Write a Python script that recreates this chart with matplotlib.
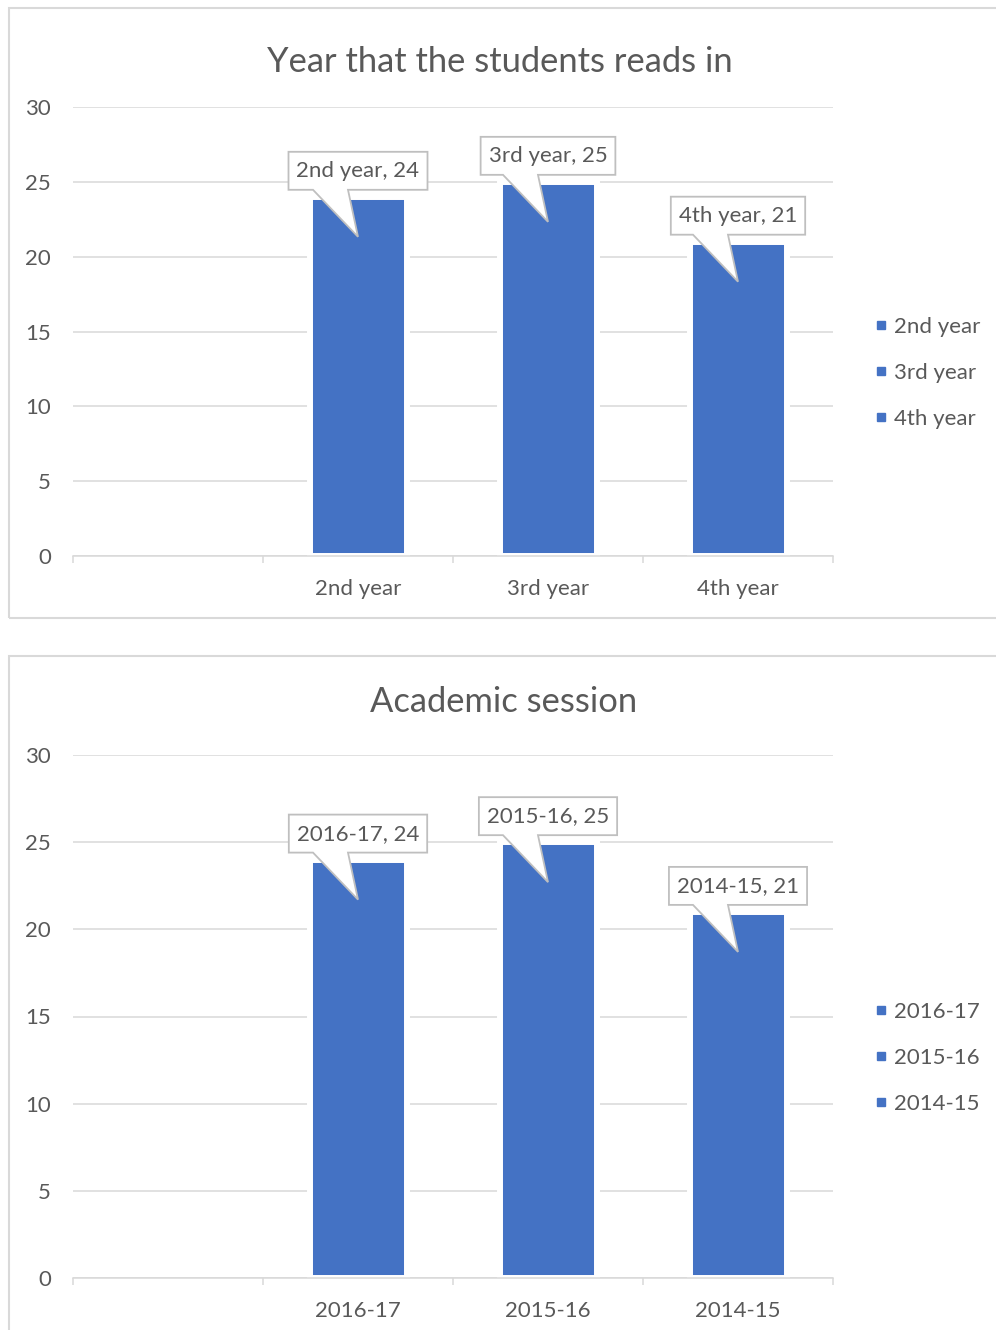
import matplotlib
matplotlib.use('Agg')
import matplotlib.pyplot as plt
from matplotlib.patches import Polygon, Rectangle
from matplotlib.lines import Line2D

plt.rcParams['font.family'] = ['Lato', 'DejaVu Sans']

# chart data (first category is left blank on the axis)
year_labels = ['2nd year', '3rd year', '4th year']
year_counts = [24, 25, 21]
session_labels = ['2016-17', '2015-16', '2014-15']
session_counts = [24, 25, 21]
y_ticks = [0, 5, 10, 15, 20, 25, 30]

BAR = '#4472C4'
TEXT = '#595959'
GRID = '#D9D9D9'
CALLOUT_EDGE = '#BFBFBF'

W, H = 996, 1330
fig = plt.figure(figsize=(W / 100, H / 100), dpi=100)


def px_rect(x0, y0, x1, y1):
    """Pixel box (top-left origin) -> figure fraction [l, b, w, h]."""
    return [x0 / W, 1 - y1 / H, (x1 - x0) / W, (y1 - y0) / H]


def draw_chart(ax, labels, counts, title, title_xy, legend_y):
    cats = [''] + labels
    xs = list(range(1, len(cats)))
    ax.set_axisbelow(True)
    ax.bar(xs, counts, width=97 / 190, color=BAR, edgecolor='white',
           linewidth=4.3, zorder=2)

    ax.set_xlim(-0.5, len(cats) - 0.5)
    ax.set_ylim(0, 30)
    ax.set_yticks(y_ticks)
    ax.yaxis.grid(True, color=GRID, linewidth=1.1)
    ax.tick_params(axis='y', length=0, pad=16, labelsize=16, labelcolor=TEXT)

    # category boundaries as tick marks, names in between
    ax.set_xticks([i - 0.5 for i in range(len(cats) + 1)])
    ax.set_xticklabels([])
    ax.tick_params(axis='x', which='major', length=5, width=1.1, color=GRID)
    ax.set_xticks(range(len(cats)), minor=True)
    ax.set_xticklabels(cats, minor=True)
    ax.tick_params(axis='x', which='minor', length=0, pad=16.5,
                   labelsize=16, labelcolor=TEXT)

    for side in ['top', 'right', 'left']:
        ax.spines[side].set_visible(False)
    ax.spines['bottom'].set_color(GRID)
    ax.spines['bottom'].set_linewidth(1.1)
    ax.spines['bottom'].set_zorder(3)

    fig.text(title_xy[0] / W, 1 - title_xy[1] / H, title, ha='center',
             va='center', fontsize=24.8, color=TEXT)

    # data callouts: box with a wedge pointing into the bar
    fig.canvas.draw()
    renderer = fig.canvas.get_renderer()
    for x, name, v in zip(xs, labels, counts):
        cx, top = ax.transData.transform((x, v))
        t = fig.text(cx / W, (top + 26) / H, f'{name}, {v}', ha='center',
                     va='center', fontsize=16, color=TEXT, zorder=6)
        bb = t.get_window_extent(renderer)
        half = bb.width / 2 + 8
        b = top + 7
        tp = b + 38
        pts = [(cx - half, tp), (cx + half, tp), (cx + half, b),
               (cx - 10, b), (cx, top - 40), (cx - 45, b), (cx - half, b)]
        pts = [(px / W, py / H) for px, py in pts]
        fig.patches.append(Polygon(pts, closed=True, facecolor='white',
                                   edgecolor=CALLOUT_EDGE, linewidth=1.3,
                                   transform=fig.transFigure, zorder=5))

    handles = [Line2D([], [], linestyle='none', marker='s', markersize=6,
                      color=BAR) for _ in labels]
    fig.legend(handles, labels, loc='upper left', frameon=False,
               bbox_to_anchor=(874 / W, 1 - legend_y / H), fontsize=16,
               labelcolor=TEXT, handlelength=0.6, handletextpad=0.3,
               labelspacing=1.17, borderpad=0, borderaxespad=0)


# outer chart frames
for box in [(9, 8, 1000, 618), (9, 656, 1000, 1340)]:
    l, b, w, h = px_rect(*box)
    fig.patches.append(Rectangle((l, b), w, h, transform=fig.transFigure,
                                 facecolor='none', edgecolor=GRID,
                                 linewidth=1.5, zorder=0))

ax1 = fig.add_axes(px_rect(73, 107, 833, 556))
draw_chart(ax1, year_labels, year_counts,
           'Year that the students reads in', (500, 62), 317)

ax2 = fig.add_axes(px_rect(73, 755, 833, 1278))
draw_chart(ax2, session_labels, session_counts,
           'Academic session', (504, 702), 1002)

fig.savefig('out.png', dpi=100, facecolor='white')
